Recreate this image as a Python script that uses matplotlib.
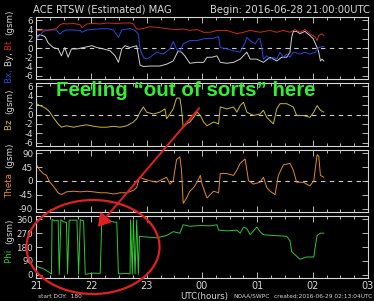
import matplotlib
matplotlib.use('Agg')
import matplotlib.pyplot as plt
from matplotlib.patches import Ellipse, FancyArrowPatch
from matplotlib.ticker import MultipleLocator, FixedLocator

# ---------------- data (hours since 21:00 UTC) ----------------
bt_t = [0.01, 0.13, 0.25, 0.37, 0.43, 0.49, 0.55, 0.68, 0.80, 0.83, 0.92, 1.04, 1.16, 1.28,
        1.46, 1.58, 1.70, 1.76, 1.82, 1.88, 1.97, 2.06, 2.24, 2.42, 2.54, 2.66, 2.78, 2.91,
        3.03, 3.15, 3.27, 3.45, 3.63, 3.75, 3.87, 4.05, 4.23, 4.35, 4.47, 4.59, 4.68, 4.77,
        4.86, 4.95, 5.05, 5.08, 5.11, 5.17, 5.20]
bt_v = [3.7, 3.9, 3.9, 4.2, 5.0, 5.3, 5.2, 5.3, 5.0, 4.4, 5.2, 5.3, 5.2, 5.4,
        5.3, 5.4, 5.4, 5.2, 4.1, 4.1, 4.3, 4.6, 4.4, 4.1, 4.0, 4.1, 3.8, 4.0,
        3.4, 3.4, 3.8, 3.8, 3.1, 3.4, 3.8, 3.4, 3.8, 3.4, 3.8, 3.4, 4.0, 3.4,
        4.0, 3.1, 2.3, 1.6, 2.7, 3.1, 2.7]

bx_t = [0.01, 0.07, 0.13, 0.25, 0.37, 0.43, 0.49, 0.55, 0.68, 0.80, 0.83, 0.92, 1.10, 1.28,
        1.40, 1.49, 1.55, 1.70, 1.79, 1.85, 1.88, 1.94, 2.00, 2.06, 2.18, 2.30, 2.42, 2.48,
        2.54, 2.60, 2.66, 2.78, 2.91, 3.03, 3.21, 3.30, 3.33, 3.45, 3.57, 3.69, 3.78, 3.81,
        3.87, 3.96, 4.02, 4.05, 4.08, 4.11, 4.17, 4.23, 4.29, 4.35, 4.41, 4.47, 4.53, 4.59,
        4.65, 4.77, 4.86, 4.95, 5.05, 5.11, 5.17, 5.20]
bx_v = [2.0, 2.7, 3.6, 3.9, 3.9, 3.0, 3.6, 3.9, 3.9, 3.8, 3.4, 3.9, 4.1, 4.2,
        3.9, 2.3, 3.9, 4.2, 3.8, 3.0, -0.2, -2.0, -2.4, -2.0, -0.9, -1.3, -0.2, 1.4,
        -0.2, -0.9, 0.9, 1.6, 1.6, 2.0, 2.1, 2.5, 0.1, -0.2, -0.6, -0.9, 1.2, 2.3,
        1.6, 0.9, 2.0, 2.0, 0.1, -2.4, -1.7, -2.4, -2.0, -2.4, -0.9, -2.0, -1.3, -2.0,
        -0.9, -1.3, -0.9, -1.3, -0.9, 0.1, 0.3, 0.3]

by_t = [0.01, 0.07, 0.16, 0.22, 0.31, 0.40, 0.46, 0.52, 0.58, 0.64, 0.74, 0.86, 1.01, 1.10,
        1.22, 1.34, 1.43, 1.49, 1.55, 1.61, 1.70, 1.82, 1.88, 1.94, 2.06, 2.24, 2.36, 2.48,
        2.57, 2.63, 2.69, 2.78, 2.91, 3.03, 3.09, 3.18, 3.27, 3.33, 3.45, 3.57, 3.69, 3.81,
        3.87, 3.99, 4.11, 4.23, 4.29, 4.35, 4.44, 4.53, 4.59, 4.62, 4.65, 4.71, 4.77, 4.86,
        4.95, 5.01, 5.08, 5.11, 5.14, 5.17, 5.20]
by_v = [2.5, 2.9, 2.5, 1.1, 0.1, -0.2, -1.7, 0.1, -2.0, -0.2, -0.2, 0.1, 0.5, 0.1,
        -0.2, -0.6, -1.7, -3.1, -0.2, 0.5, 0.1, 0.5, -3.7, -4.0, -3.9, -3.9, -3.5, -2.8,
        -0.6, -0.9, -1.7, -3.3, -3.1, -3.1, -2.0, -2.0, -1.7, -3.1, -3.3, -3.1, -2.4, -0.9,
        -2.4, -2.4, -3.1, -2.0, -2.4, -2.8, -2.0, -2.0, -0.9, 2.3, 3.6, 3.6, 3.1, 3.6,
        2.7, 2.0, 0.1, -0.9, -2.8, -2.4, -2.8]

bz_t = [0.01, 0.07, 0.13, 0.19, 0.25, 0.31, 0.40, 0.46, 0.55, 0.68, 0.80, 0.92, 1.04, 1.16,
        1.28, 1.40, 1.52, 1.64, 1.76, 1.82, 1.88, 1.94, 2.00, 2.12, 2.24, 2.33, 2.36, 2.42,
        2.48, 2.54, 2.60, 2.63, 2.66, 2.72, 2.78, 2.85, 2.91, 2.97, 3.03, 3.09, 3.21, 3.30,
        3.33, 3.45, 3.57, 3.63, 3.69, 3.75, 3.81, 3.93, 4.05, 4.11, 4.17, 4.23, 4.29, 4.35,
        4.41, 4.53, 4.65, 4.71, 4.83, 4.95, 5.02, 5.08, 5.14, 5.20]
bz_v = [2.3, 1.9, 1.6, 1.2, 0.5, -0.6, -2.0, -2.7, -2.4, -2.7, -2.4, -2.2, -2.5, -2.7,
        -2.7, -2.5, -2.7, -2.4, -1.6, -0.9, 0.5, 1.6, 0.5, 0.1, 0.5, 1.2, -0.9, 0.1,
        1.2, 3.5, 3.5, 1.2, -2.7, -2.0, -1.6, -0.6, 0.5, -0.2, -1.6, -2.4, -1.6, -2.0,
        1.6, 1.2, 1.6, 0.5, 1.9, 2.6, 0.5, -0.2, 0.1, 0.9, -0.6, -1.3, -2.0, 1.2,
        2.3, 2.3, 1.6, -0.2, -0.2, -0.6, 0.5, 1.9, 0.9, 0.5]

th_t = [0.01, 0.07, 0.13, 0.19, 0.25, 0.31, 0.40, 0.46, 0.55, 0.68, 0.80, 0.92, 1.04, 1.16,
        1.28, 1.40, 1.52, 1.64, 1.76, 1.82, 1.87, 1.94, 2.06, 2.18, 2.30, 2.36, 2.42, 2.48,
        2.54, 2.60, 2.63, 2.66, 2.72, 2.78, 2.85, 2.91, 2.97, 3.00, 3.09, 3.21, 3.30, 3.33,
        3.45, 3.57, 3.63, 3.69, 3.78, 3.84, 3.93, 4.05, 4.11, 4.17, 4.23, 4.32, 4.38, 4.47,
        4.59, 4.65, 4.71, 4.83, 4.95, 5.02, 5.08, 5.11, 5.14, 5.20]
th_v = [52, 35, 24, 18, -4, -16, -38, -44, -35, -33, -35, -33, -35, -38,
        -38, -42, -38, -38, -30, -21, 12, 7, 1, -4, 7, 12, -10, 1,
        69, 78, 35, -72, -55, -33, -21, -4, 18, -10, -55, -33, -38, 24,
        24, 18, 35, 57, 71, 1, -10, -4, 12, -21, -33, -44, 18, 52,
        57, 35, -4, -4, -16, 1, 85, 80, 18, 12]

ph_t = [0.01, 0.13, 0.22, 0.28, 0.29, 0.34, 0.40, 0.42, 0.45, 0.49, 0.55, 0.57, 0.60, 0.74,
        0.77, 0.80, 0.86, 0.89, 1.04, 1.16, 1.19, 1.28, 1.37, 1.46, 1.49, 1.64, 1.70, 1.71,
        1.74, 1.76, 1.79, 1.82, 1.85, 1.87, 2.00, 2.18, 2.36, 2.48, 2.60, 2.66, 2.78, 2.97,
        3.15, 3.27, 3.30, 3.45, 3.63, 3.69, 3.75, 3.81, 3.87, 3.99, 4.05, 4.11, 4.29, 4.53,
        4.59, 4.62, 4.71, 4.77, 4.89, 5.02, 5.05, 5.08, 5.14, 5.20]
ph_v = [54, 39, 20, 4, 360, 350, 355, 2, 358, 345, 340, 5, 355, 355,
        3, 358, 350, 2, 10, 8, 358, 355, 345, 340, 5, 8, 5, 358,
        3, 358, 5, 355, 2, 250, 245, 240, 255, 280, 270, 325, 315, 320,
        318, 325, 290, 285, 290, 270, 310, 300, 260, 310, 280, 260, 255, 250,
        220, 150, 120, 100, 115, 115, 190, 255, 270, 270]

hour_labels = ['21', '22', '23', '00', '01', '02', '03']

# ---------------- figure ----------------
plt.rcParams['axes.unicode_minus'] = False
W, H = 374, 301
fig = plt.figure(figsize=(W / 100, H / 100), dpi=100, facecolor='black')
FG = '#d8d8d8'


def box(top, bottom):
    return [36 / W, 1 - bottom / H, (368 - 36) / W, (bottom - top) / H]


panels = [(17, 79), (83, 146), (150, 212), (216, 278)]
axes = []
for i, (t, b) in enumerate(panels):
    ax = fig.add_axes(box(t, b), facecolor='black')
    ax.set_xlim(0, 6)
    ax.xaxis.set_major_locator(MultipleLocator(1))
    ax.xaxis.set_minor_locator(MultipleLocator(0.25))
    ax.tick_params(which='both', direction='in', top=True, right=True, color=FG,
                   labelcolor=FG, labelsize=6.3, width=0.6, pad=2)
    ax.tick_params(which='major', length=4)
    ax.tick_params(which='minor', length=2)
    for s in ax.spines.values():
        s.set_color(FG)
        s.set_linewidth(0.8)
    if i < 3:
        ax.set_xticklabels([])
        ax.axhline(0, color='#cfcfcf', lw=0.8, ls=(0, (4, 4)), zorder=1)
    axes.append(ax)

ax1, ax2, ax3, ax4 = axes
lw = 0.7
ax1.plot(by_t, by_v, color='#d0d0d0', lw=lw)
ax1.plot(bx_t, bx_v, color='#2848e0', lw=lw)
ax1.plot(bt_t, bt_v, color='#d02828', lw=lw)
ax1.set_ylim(-6.7, 6.7)
ax1.yaxis.set_major_locator(FixedLocator([-6, -4, -2, 0, 2, 4, 6]))

ax2.plot(bz_t, bz_v, color='#c8b830', lw=lw)
ax2.set_ylim(-6.7, 6.7)
ax2.yaxis.set_major_locator(FixedLocator([-6, -4, -2, 0, 2, 4, 6]))

ax3.plot(th_t, th_v, color='#e08a28', lw=lw)
ax3.set_ylim(-100, 100)
ax3.yaxis.set_major_locator(FixedLocator([-90, -45, 0, 45, 90]))

ax4.plot(ph_t, ph_v, color='#30c830', lw=lw)
ax4.set_ylim(-22, 382)
ax4.yaxis.set_major_locator(FixedLocator([0, 90, 180, 270, 360]))
ax4.set_xticks(range(7))
ax4.set_xticklabels(hour_labels, fontsize=7)
ax4.tick_params(axis='x', pad=2.5)


# ---------------- multi-coloured y labels ----------------
def chain_label(y_bottom_px, pieces, x_px=9.5):
    prev = None
    for txt, col in pieces:
        if prev is None:
            prev = fig.text(x_px / W, 1 - y_bottom_px / H, txt, color=col, fontsize=6.3,
                            rotation=90, ha='center', va='bottom')
        else:
            prev = axes[0].annotate(txt, xy=(0.5, 1.0), xycoords=prev, color=col,
                                    fontsize=6.3, rotation=90, ha='center', va='bottom',
                                    annotation_clip=False)


chain_label(83, [('Bx, ', '#2848e0'), ('By, ', FG), ('Bt  ', '#d02828'), ('(gsm)', FG)])
chain_label(130, [('Bz  ', '#c8b830'), ('(gsm)', FG)])
chain_label(198, [('Theta  ', '#e08a28'), ('(gsm)', FG)])
chain_label(263, [('Phi  ', '#30c830'), ('(gsm)', FG)])

# ---------------- titles / footers ----------------
fig.text(33 / W, 1 - 10 / H, 'ACE RTSW (Estimated) MAG', color=FG, fontsize=7.2,
         ha='left', va='center')
fig.text(370 / W, 1 - 10 / H, 'Begin: 2016-06-28 21:00:00UTC', color=FG, fontsize=7.2,
         ha='right', va='center')
fig.text(38 / W, 1 - 296 / H, 'start DOY:  180', color=FG, fontsize=4.2, ha='left', va='center')
fig.text(204 / W, 1 - 296 / H, 'UTC(hours)', color=FG, fontsize=6.2, ha='center', va='center')
fig.text(252 / W, 1 - 296 / H, 'NOAA/SWPC', color=FG, fontsize=4.2, ha='center', va='center')
fig.text(372 / W, 1 - 296 / H, 'created:2016-06-29 02:13:04UTC', color=FG, fontsize=4.2,
         ha='right', va='center')

# ---------------- annotation overlay ----------------
ov = fig.add_axes([0, 0, 1, 1], facecolor='none')
ov.set_xlim(0, W)
ov.set_ylim(H, 0)
ov.axis('off')
ov.text(186, 91, 'Feeling \u201cout of sorts\u201d here', color='#33ee33', fontsize=14.8,
        fontweight='bold', family=['Liberation Sans', 'DejaVu Sans'], ha='center', va='center')
ov.add_patch(Ellipse((93, 247), 133, 94, fill=False, ec='#e02020', lw=1.6))
ov.add_patch(FancyArrowPatch((201, 106), (96, 229), arrowstyle='-|>,head_length=5,head_width=3',
                             color='#e02020', lw=1.4, mutation_scale=1.5))

fig.savefig('out.png', dpi=100, facecolor='black')
